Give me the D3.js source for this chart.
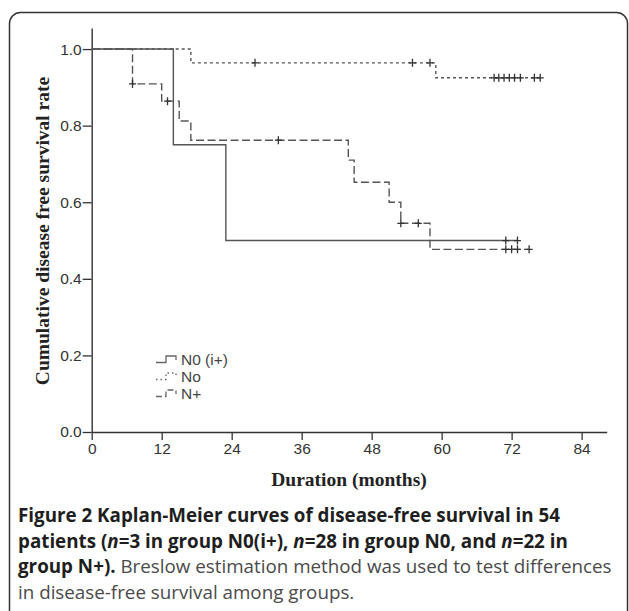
<!DOCTYPE html>
<html lang="en">
<head>
<meta charset="UTF-8">
<title>Kaplan-Meier curves</title>
<script src="https://cdn.jsdelivr.net/npm/d3@7"></script>
<style>
  body { margin: 0; background: #fff; }
  svg { display: block; }
</style>
</head>
<body>
<div id="chart"></div>
<script>
// values (months / survival)
const monthTicks = [0, 12, 24, 36, 48, 60, 72, 84];
const survTicks = [0.0, 0.2, 0.4, 0.6, 0.8, 1.0];

const n0iTimes = [0, 14, 23];
const n0iSurv = [1, 0.75, 0.5];
const n0iEnd = 73;
const n0iCensored = [71, 73];

const noTimes = [0, 17, 59];
const noSurv = [1, 0.964, 0.925];
const noEnd = 77;
const noCensored = [28, 55, 58, 69, 69.8, 70.7, 71.6, 72.5, 73.5, 75.9, 76.9];

const npTimes = [0, 7, 12, 15, 17, 44, 45, 51, 53, 58];
const npSurv = [1, 0.909, 0.864, 0.812, 0.762, 0.71, 0.652, 0.6, 0.545, 0.477];
const npEnd = 75;
const npCensored = [7, 13, 32, 53, 56, 71, 72, 73, 75];

const groups = [
  {name: "N0 (i+)", times: n0iTimes, surv: n0iSurv, end: n0iEnd, cens: n0iCensored, dash: null, key: null},
  {name: "No", times: noTimes, surv: noSurv, end: noEnd, cens: noCensored, dash: "3,3", key: "1.5,3"},
  {name: "N+", times: npTimes, surv: npSurv, end: npEnd, cens: npCensored, dash: "8,3.5", key: "6,3"}
];

const W = 629, H = 611;
const svg = d3.select("#chart").append("svg").attr("width", W).attr("height", H);

// frame
svg.append("rect")
  .attr("x", 9.5).attr("y", 12.5).attr("width", 618).attr("height", 640)
  .attr("rx", 11)
  .style("fill", "none").style("stroke", "#333").style("stroke-width", 1.5);

const x = d3.scaleLinear().domain([0, 88.3]).range([91.7, 606.7]);
const y = d3.scaleLinear().domain([0, 1.055]).range([432, 28]);

const xAxis = svg.append("g")
  .attr("transform", "translate(0," + y(0) + ")")
  .call(d3.axisBottom(x).tickValues(monthTicks).tickSize(8).tickSizeOuter(0).tickPadding(3));
const yAxis = svg.append("g")
  .attr("transform", "translate(" + x(0) + ",0)")
  .call(d3.axisLeft(y).tickValues(survTicks).tickSize(9).tickSizeOuter(0).tickPadding(1)
    .tickFormat(d3.format(".1f")));

[xAxis, yAxis].forEach(g => {
  g.select(".domain").style("stroke", "#333").style("stroke-width", 1.4);
  g.selectAll(".tick line").style("stroke", "#333").style("stroke-width", 1.3);
  g.selectAll("text").style("font-family", "'Liberation Sans', Arial, sans-serif")
    .style("font-size", "15.5px").style("fill", "#333");
});

// step value at time t
function survAt(g, t) {
  let s = g.surv[0];
  g.times.forEach((tt, i) => { if (tt <= t) s = g.surv[i]; });
  return s;
}

const line = d3.line().x(d => x(d[0])).y(d => y(d[1])).curve(d3.curveStepAfter);

groups.forEach(g => {
  const pts = g.times.map((t, i) => [t, g.surv[i]]);
  pts.push([g.end, g.surv[g.surv.length - 1]]);
  svg.append("path")
    .attr("d", line(pts))
    .style("fill", "none").style("stroke", "#555").style("stroke-width", 1.4)
    .style("stroke-dasharray", g.dash);
  // censor marks as small plus signs
  svg.selectAll(null)
    .data(g.cens)
    .enter()
    .append("path")
    .attr("d", d => {
      const cx = x(d), cy = y(survAt(g, d));
      return "M" + cx + "," + (cy - 4) + "V" + (cy + 4) + "M" + (cx - 3.5) + "," + cy + "H" + (cx + 3.5);
    })
    .style("fill", "none").style("stroke", "#333").style("stroke-width", 1.3);
});

// legend
const legend = svg.append("g").attr("transform", "translate(156,360)");
groups.forEach((g, i) => {
  const row = legend.append("g").attr("transform", "translate(0," + i * 17 + ")");
  row.append("path")
    .attr("d", "M0,2.5H10V-4H20V0")
    .style("fill", "none").style("stroke", "#666").style("stroke-width", 1.3)
    .style("stroke-dasharray", g.key);
  row.append("text")
    .attr("x", 25).attr("y", 0).attr("dy", "0.35em")
    .style("font-family", "'Liberation Sans', Arial, sans-serif")
    .style("font-size", "15.5px").style("fill", "#444")
    .text(g.name);
});

// axis titles
svg.append("text")
  .attr("transform", "translate(49,231) rotate(-90)")
  .attr("text-anchor", "middle")
  .style("font-family", "'Liberation Serif', 'Times New Roman', serif")
  .style("font-weight", "bold").style("font-size", "19.5px").style("fill", "#222")
  .text("Cumulative disease free survival rate");

svg.append("text")
  .attr("x", 349).attr("y", 486)
  .attr("text-anchor", "middle")
  .style("font-family", "'Liberation Serif', 'Times New Roman', serif")
  .style("font-weight", "bold").style("font-size", "19.5px").style("fill", "#222")
  .text("Duration (months)");

// caption
const capLines = [
  [["b", "Figure 2 Kaplan-Meier curves of disease-free survival in 54"]],
  [["b", "patients ("], ["bi", "n"], ["b", "=3 in group N0(i+), "], ["bi", "n"],
   ["b", "=28 in group N0, and "], ["bi", "n"], ["b", "=22 in"]],
  [["b", "group N+)."], ["r", " Breslow estimation method was used to test differences"]],
  [["r", "in disease-free survival among groups."]]
];
const cap = svg.append("text")
  .style("font-family", "'Open Sans', 'Noto Sans', sans-serif")
  .style("font-size", "18.8px");
capLines.forEach((parts, i) => {
  parts.forEach((p, j) => {
    const ts = cap.append("tspan").text(p[1])
      .style("font-weight", p[0] === "r" ? "normal" : "bold")
      .style("font-style", p[0] === "bi" ? "italic" : "normal")
      .style("fill", p[0] === "r" ? "#4a4a4a" : "#1e1e1e");
    if (j === 0) ts.attr("x", 18).attr("y", 522 + i * 25.5);
  });
});
</script>
</body>
</html>
